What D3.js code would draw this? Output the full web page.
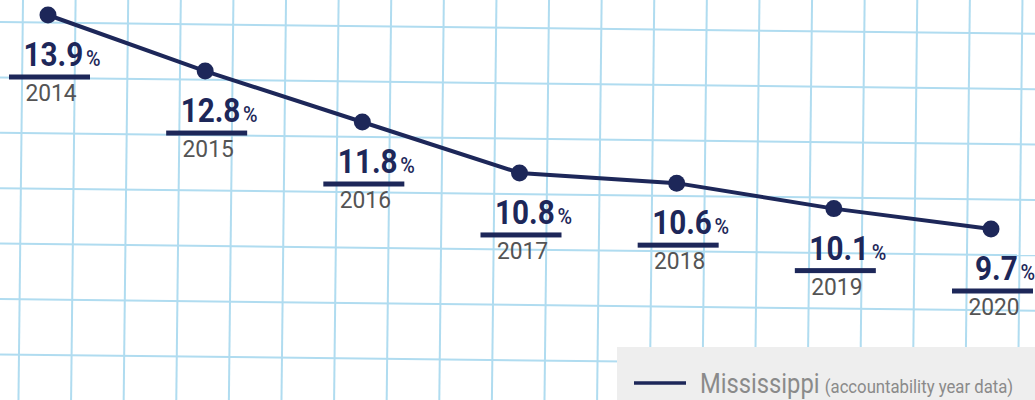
<!DOCTYPE html>
<html>
<head>
<meta charset="utf-8">
<script src="https://cdn.jsdelivr.net/npm/d3@7"></script>
<style>
  body { margin: 0; background: #fff; }
  svg { display: block; font-family: Roboto, "Noto Sans", sans-serif; }
</style>
</head>
<body>
<div id="chart"></div>
<script>
// data
const years = ["2014", "2015", "2016", "2017", "2018", "2019", "2020"];
const rates = [13.9, 12.8, 11.8, 10.8, 10.6, 10.1, 9.7];
const legendName = "Mississippi";
const legendNote = "(accountability year data)";

const width = 1035, height = 400;
const navy = "#1d2759";

const data = years.map((y, i) => ({ year: y, value: rates[i] }));

const svg = d3.select("#chart").append("svg")
    .attr("width", width)
    .attr("height", height);

// graph paper background, slightly tilted like the scan
const grid = svg.append("g")
    .attr("transform", "rotate(0.65)");
grid.selectAll("line.v")
    .data(d3.range(-2, 22))
    .join("line")
    .attr("class", "v")
    .attr("x1", d => 23 + d * 52.6)
    .attr("x2", d => 23 + d * 52.6)
    .attr("y1", -40)
    .attr("y2", height + 40)
    .attr("stroke", "#b0dcf0")
    .attr("stroke-width", 2);
grid.selectAll("line.h")
    .data(d3.range(-2, 9))
    .join("line")
    .attr("class", "h")
    .attr("y1", d => 22 + d * 55.4)
    .attr("y2", d => 22 + d * 55.4)
    .attr("x1", -40)
    .attr("x2", width + 40)
    .attr("stroke", "#b0dcf0")
    .attr("stroke-width", 2);

// scales
const x = d3.scalePoint()
    .domain(years)
    .range([48, 991]);

const y = d3.scaleLinear()
    .domain([9.7, 13.9])
    .range([229, 15]);

// line
const line = d3.line()
    .x(d => x(d.year))
    .y(d => y(d.value));

svg.append("path")
    .datum(data)
    .attr("d", line)
    .attr("fill", "none")
    .attr("stroke", navy)
    .attr("stroke-width", 4);

svg.selectAll("circle.pt")
    .data(data)
    .join("circle")
    .attr("class", "pt")
    .attr("cx", d => x(d.year))
    .attr("cy", d => y(d.value))
    .attr("r", 8.5)
    .attr("fill", navy);

// labels under each point
const labels = svg.selectAll("g.lbl")
    .data(data)
    .join("g")
    .attr("class", "lbl")
    .attr("transform", d => "translate(" + x(d.year) + "," + (y(d.value) + 62) + ")");

labels.append("rect")
    .attr("x", -39)
    .attr("y", -2.5)
    .attr("width", 81)
    .attr("height", 5)
    .attr("fill", navy);

// value text, squeezed a little to look like the condensed face
const val = labels.append("g")
    .attr("transform", "translate(14,-11) scale(0.9,1)")
    .append("text")
    .attr("text-anchor", "middle")
    .attr("fill", navy)
    .attr("font-weight", 700)
    .attr("font-size", 33);
val.append("tspan")
    .text(d => d.value.toFixed(1));
val.append("tspan")
    .attr("font-size", 22)
    .attr("dx", 3)
    .attr("font-weight", 500)
    .text("%");

labels.append("g")
    .attr("transform", "translate(3,24) scale(0.95,1)")
    .append("text")
    .attr("text-anchor", "middle")
    .attr("fill", "#545454")
    .attr("font-size", 24)
    .text(d => d.year);

// legend box
const legend = svg.append("g")
    .attr("transform", "translate(617,347)");
legend.append("rect")
    .attr("width", width - 617)
    .attr("height", height - 347)
    .attr("fill", "#eeeeee");
legend.append("line")
    .attr("x1", 17)
    .attr("x2", 69)
    .attr("y1", 36)
    .attr("y2", 36)
    .attr("stroke", navy)
    .attr("stroke-width", 3.5);
const lt = legend.append("g")
    .attr("transform", "translate(83,46) scale(0.88,1)")
    .append("text")
    .attr("fill", "#8a8a8a");
lt.append("tspan")
    .attr("font-size", 27)
    .text(legendName);
lt.append("tspan")
    .attr("font-size", 19)
    .attr("dx", 6)
    .text(legendNote);
</script>
</body>
</html>
